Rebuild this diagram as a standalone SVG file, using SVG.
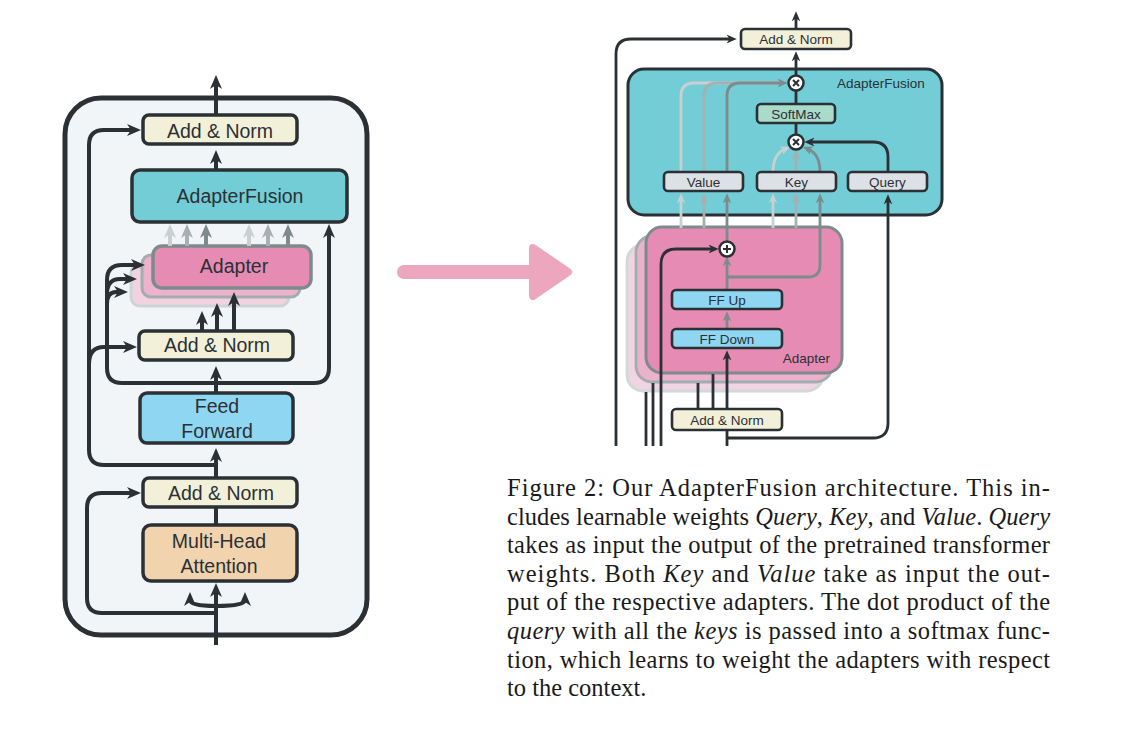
<svg xmlns="http://www.w3.org/2000/svg" width="1130" height="734" viewBox="0 0 1130 734">
<style>
.sans{font-family:"Liberation Sans",Arial,sans-serif;fill:#2b3035}
.tl{font-size:19.5px;text-anchor:middle}
.tr{font-size:13.5px;text-anchor:middle}
.bx{stroke:#2b3035;stroke-width:3.5}
.bxr{stroke:#2b3035;stroke-width:2.6}
.an{fill:#f3f0da}
.ln{fill:none;stroke:#2b3035;stroke-width:4}
.lg{fill:none;stroke-width:4}
.rl{fill:none;stroke:#2b3035;stroke-width:2.8}
.rg{fill:none;stroke-width:2.8}
.c1{stroke:#c9d0d2}.c2{stroke:#a6b0b2}.c3{stroke:#7e8a8c}
.circ{fill:#ffffff;stroke:#2b3035;stroke-width:2.5}
.sym{stroke:#2b3035;stroke-width:2;fill:none}
.cap{font-family:"Liberation Serif","Times New Roman",serif;font-size:24.5px;fill:#1a1a1a}
.it{font-style:italic}
</style>
<defs>
<marker id="aL" viewBox="0 0 14 14" refX="6" refY="7" markerWidth="14" markerHeight="14" markerUnits="userSpaceOnUse" orient="auto"><path d="M0,1 L14,7 L0,13 L4,7 Z" fill="#2b3035"/></marker>
<marker id="aL1" viewBox="0 0 14 14" refX="6" refY="7" markerWidth="14" markerHeight="14" markerUnits="userSpaceOnUse" orient="auto"><path d="M0,1 L14,7 L0,13 L4,7 Z" fill="#c9d0d2"/></marker>
<marker id="aL2" viewBox="0 0 14 14" refX="6" refY="7" markerWidth="14" markerHeight="14" markerUnits="userSpaceOnUse" orient="auto"><path d="M0,1 L14,7 L0,13 L4,7 Z" fill="#a6b0b2"/></marker>
<marker id="aL3" viewBox="0 0 14 14" refX="6" refY="7" markerWidth="14" markerHeight="14" markerUnits="userSpaceOnUse" orient="auto"><path d="M0,1 L14,7 L0,13 L4,7 Z" fill="#7e8a8c"/></marker>
<marker id="aR" viewBox="0 0 14 14" refX="6" refY="7" markerWidth="10" markerHeight="10" markerUnits="userSpaceOnUse" orient="auto"><path d="M0,1 L14,7 L0,13 L4,7 Z" fill="#2b3035"/></marker>
<marker id="aR1" viewBox="0 0 14 14" refX="6" refY="7" markerWidth="10" markerHeight="10" markerUnits="userSpaceOnUse" orient="auto"><path d="M0,1 L14,7 L0,13 L4,7 Z" fill="#c9d0d2"/></marker>
<marker id="aR2" viewBox="0 0 14 14" refX="6" refY="7" markerWidth="10" markerHeight="10" markerUnits="userSpaceOnUse" orient="auto"><path d="M0,1 L14,7 L0,13 L4,7 Z" fill="#a6b0b2"/></marker>
<marker id="aR3" viewBox="0 0 14 14" refX="6" refY="7" markerWidth="10" markerHeight="10" markerUnits="userSpaceOnUse" orient="auto"><path d="M0,1 L14,7 L0,13 L4,7 Z" fill="#7e8a8c"/></marker>
</defs>

<!-- LEFT: containers -->
<g id="L-layer"><rect x="65" y="98" width="302" height="537" rx="36" fill="#f1f5f7" stroke="#2b3035" stroke-width="5"/></g>
<g id="L-adapter">
<rect x="131" y="264" width="158" height="42" rx="9" fill="#f3d2df" stroke="#cdd4d6" stroke-width="3"/>
<rect x="142" y="255" width="158" height="42" rx="9" fill="#eeb3cc" stroke="#a3adaf" stroke-width="3"/>
<rect x="153" y="246" width="158" height="42" rx="9" fill="#e68bb4" stroke="#7e8a8c" stroke-width="3.5"/>
<text class="sans tl" x="234" y="273">Adapter</text>
</g>

<!-- RIGHT: containers -->
<g id="R-fusion"><rect x="628" y="69" width="314" height="146" rx="16" fill="#72cdd6" stroke="#2b3035" stroke-width="3"/>
<text class="sans" x="837" y="88" font-size="13.5">AdapterFusion</text></g>
<g id="R-adapter">
<rect x="627" y="245" width="196" height="146" rx="16" fill="#f0d4e0" stroke="#d2d8da" stroke-width="2.8"/>
<rect x="636" y="236" width="196" height="146" rx="16" fill="#ebb2cb" stroke="#a3adaf" stroke-width="2.8"/>
<rect x="646" y="227" width="196" height="146" rx="16" fill="#e68bb4" stroke="#7e8a8c" stroke-width="3"/>
<text class="sans" x="830" y="363" font-size="13.5" text-anchor="end">Adapter</text>
</g>

<!-- connectors -->
<g id="connectors">
<!-- left -->
<path class="ln" d="M216,115 V83" marker-end="url(#aL)"/>
<path class="ln" d="M216,170 V158" marker-end="url(#aL)"/>
<path class="ln" d="M216,465 H104 Q89,465 89,450 V145 Q89,130 104,130 H133" marker-end="url(#aL)"/>
<path class="ln" d="M89,364 Q89,347 104,347 H129" marker-end="url(#aL)"/>
<path class="ln" d="M216,383 H122 Q107,383 107,368 V280 Q107,265 122,265 H137" marker-end="url(#aL)"/>
<path class="ln" d="M107,294 Q107,279 120,279 H129" marker-end="url(#aL)"/>
<path class="ln" d="M107,304 Q107,292 116,292 H120" marker-end="url(#aL)"/>
<path class="ln" d="M216,383 H314 Q329,383 329,368 V232" marker-end="url(#aL)"/>
<path class="ln" d="M216,393 V374" marker-end="url(#aL)"/>
<path class="ln" d="M216,478 V456" marker-end="url(#aL)"/>
<path class="ln" d="M216,525 V507"/>
<path class="ln" d="M216,613 H102 Q87,613 87,598 V508 Q87,493 102,493 H133" marker-end="url(#aL)"/>
<path class="ln" d="M216,645 V591" marker-end="url(#aL)"/>
<path class="ln" d="M216,606 Q190,606 190,600" marker-end="url(#aL)"/>
<path class="ln" d="M216,606 Q245,606 245,600" marker-end="url(#aL)"/>
<path class="lg c1" d="M170,246 V232" marker-end="url(#aL1)"/>
<path class="lg c2" d="M187,246 V232" marker-end="url(#aL2)"/>
<path class="lg c3" d="M206,246 V232" marker-end="url(#aL3)"/>
<path class="lg c1" d="M249,246 V232" marker-end="url(#aL1)"/>
<path class="lg c2" d="M268,246 V232" marker-end="url(#aL2)"/>
<path class="lg c3" d="M288,246 V232" marker-end="url(#aL3)"/>
<path class="ln" d="M202,331 V319" marker-end="url(#aL)"/>
<path class="ln" d="M217,331 V311" marker-end="url(#aL)"/>
<path class="ln" d="M234,331 V300" marker-end="url(#aL)"/>
<!-- right -->
<path class="rl" d="M796,29 V17" marker-end="url(#aR)"/>
<path class="rl" d="M796,76 V57" marker-end="url(#aR)"/>
<path class="rl" d="M796,90 V104"/>
<path class="rl" d="M796,123 V135"/>
<path class="rl" d="M616,446 V54 Q616,39 631,39 H731" marker-end="url(#aR)"/>
<path class="rl" d="M727,438 H873 Q888,438 888,423 V200" marker-end="url(#aR)"/>
<path class="rl" d="M888,172 V157 Q888,142 873,142 H810" marker-end="url(#aR)"/>
<path class="rg c1" d="M773,172 C773,158 778,152 785,149" marker-end="url(#aR1)"/>
<path class="rg c2" d="M796,172 V155" marker-end="url(#aR2)"/>
<path class="rg c3" d="M820,172 C820,158 815,152 808,149" marker-end="url(#aR3)"/>
<path class="rg c1" d="M681,172 V96 Q681,83 694,83 H781"/>
<path class="rg c2" d="M704,172 V96 Q704,83 717,83 H781"/>
<path class="rg c3" d="M727,172 V96 Q727,83 740,83 H782" marker-end="url(#aR3)"/>
<path class="rg c1" d="M681,228 V199" marker-end="url(#aR1)"/>
<path class="rg c2" d="M704,228 V199" marker-end="url(#aR2)"/>
<path class="rg c3" d="M727,241 V199" marker-end="url(#aR3)"/>
<path class="rg c1" d="M773,228 V199" marker-end="url(#aR1)"/>
<path class="rg c2" d="M796,228 V199" marker-end="url(#aR2)"/>
<path class="rg c3" d="M727,277 H808 Q820,277 820,265 V199" marker-end="url(#aR3)"/>
<path class="rl" d="M661,446 V264 Q661,249 676,249 H713" marker-end="url(#aR)"/>
<path class="rg c3" d="M727,290 V262" marker-end="url(#aR3)"/>
<path class="rg c3" d="M727,329 V317" marker-end="url(#aR3)"/>
<path class="rl" d="M727,409 V356" marker-end="url(#aR)"/>
<path class="rl" d="M727,430 V446"/>
<path class="rl" d="M698,409 V383"/>
<path class="rl" d="M713,409 V374"/>
<path class="rl" d="M646,446 V392"/>
<path class="rl" d="M653,446 V383"/>
</g>

<!-- LEFT nodes -->
<g id="L-addnorm-top"><rect class="bx an" x="143" y="115" width="154" height="29" rx="6"/><text class="sans tl" x="220" y="137.5">Add &amp; Norm</text></g>
<g id="L-adapterfusion"><rect class="bx" x="132" y="170" width="215" height="52" rx="8" fill="#72cdd6"/><text class="sans tl" x="240" y="203">AdapterFusion</text></g>
<g id="L-addnorm-mid"><rect class="bx an" x="139" y="331" width="154" height="29" rx="6"/><text class="sans tl" x="217" y="352">Add &amp; Norm</text></g>
<g id="L-feedforward"><rect class="bx" x="140" y="393" width="153" height="50" rx="7" fill="#8ed6f1"/><text class="sans tl" x="217" y="413">Feed</text><text class="sans tl" x="217" y="438">Forward</text></g>
<g id="L-addnorm-bot"><rect class="bx an" x="143" y="478" width="154" height="29" rx="6"/><text class="sans tl" x="221" y="500">Add &amp; Norm</text></g>
<g id="L-mha"><rect class="bx" x="143" y="525" width="154" height="56" rx="8" fill="#f1d3ae"/><text class="sans tl" x="219" y="548">Multi-Head</text><text class="sans tl" x="219" y="573">Attention</text></g>

<!-- transition arrow -->
<g id="pink-arrow"><line x1="404" y1="272" x2="535" y2="272" stroke="#eca6be" stroke-width="14" stroke-linecap="round"/><path d="M533,248 L568,272 L533,296 Z" fill="#eca6be" stroke="#eca6be" stroke-width="8" stroke-linejoin="round"/></g>

<!-- RIGHT nodes -->
<g id="R-addnorm-top"><rect class="bxr an" x="741" y="29" width="110" height="20" rx="4"/><text class="sans tr" x="796" y="44">Add &amp; Norm</text></g>
<g id="R-mul-top"><circle class="circ" cx="796" cy="83" r="7.5"/><path class="sym" d="M793,80 L799,86 M799,80 L793,86"/></g>
<g id="R-softmax"><rect class="bxr" x="757" y="104" width="78" height="19" rx="4" fill="#a9dbca"/><text class="sans tr" x="796" y="119">SoftMax</text></g>
<g id="R-mul-bot"><circle class="circ" cx="796" cy="142" r="7.5"/><path class="sym" d="M793,139 L799,145 M799,139 L793,145"/></g>
<g id="R-value"><rect class="bxr" x="664" y="172" width="79" height="19" rx="4" fill="#dde1e5"/><text class="sans tr" x="703.5" y="187">Value</text></g>
<g id="R-key"><rect class="bxr" x="757" y="172" width="79" height="19" rx="4" fill="#dde1e5"/><text class="sans tr" x="796.5" y="187">Key</text></g>
<g id="R-query"><rect class="bxr" x="848" y="172" width="79" height="19" rx="4" fill="#dde1e5"/><text class="sans tr" x="887.5" y="187">Query</text></g>
<g id="R-add"><circle class="circ" cx="727" cy="249" r="7.5"/><path class="sym" d="M727,245 V253 M723,249 H731"/></g>
<g id="R-ffup"><rect class="bxr" x="672" y="290" width="110" height="19" rx="4" fill="#8ed6f1"/><text class="sans tr" x="727" y="305">FF Up</text></g>
<g id="R-ffdown"><rect class="bxr" x="672" y="329" width="110" height="19" rx="4" fill="#8ed6f1"/><text class="sans tr" x="727" y="344">FF Down</text></g>
<g id="R-addnorm-bot"><rect class="bxr an" x="672" y="409" width="110" height="21" rx="4"/><text class="sans tr" x="727" y="425">Add &amp; Norm</text></g>

<!-- caption -->
<g id="caption" class="cap">
<text x="507" y="496" textLength="543" lengthAdjust="spacing">Figure 2:  Our AdapterFusion architecture.  This in-</text>
<text x="507" y="524.6" textLength="543" lengthAdjust="spacing">cludes learnable weights <tspan class="it">Query</tspan>, <tspan class="it">Key</tspan>, and <tspan class="it">Value</tspan>. <tspan class="it">Query</tspan></text>
<text x="507" y="553.2" textLength="543" lengthAdjust="spacing">takes as input the output of the pretrained transformer</text>
<text x="507" y="581.8" textLength="543" lengthAdjust="spacing">weights.  Both <tspan class="it">Key</tspan> and <tspan class="it">Value</tspan> take as input the out-</text>
<text x="507" y="610.4" textLength="543" lengthAdjust="spacing">put of the respective adapters. The dot product of the</text>
<text x="507" y="639" textLength="543" lengthAdjust="spacing"><tspan class="it">query</tspan> with all the <tspan class="it">keys</tspan> is passed into a softmax func-</text>
<text x="507" y="667.6" textLength="543" lengthAdjust="spacing">tion, which learns to weight the adapters with respect</text>
<text x="507" y="696.2">to the context.</text>
</g>
</svg>
